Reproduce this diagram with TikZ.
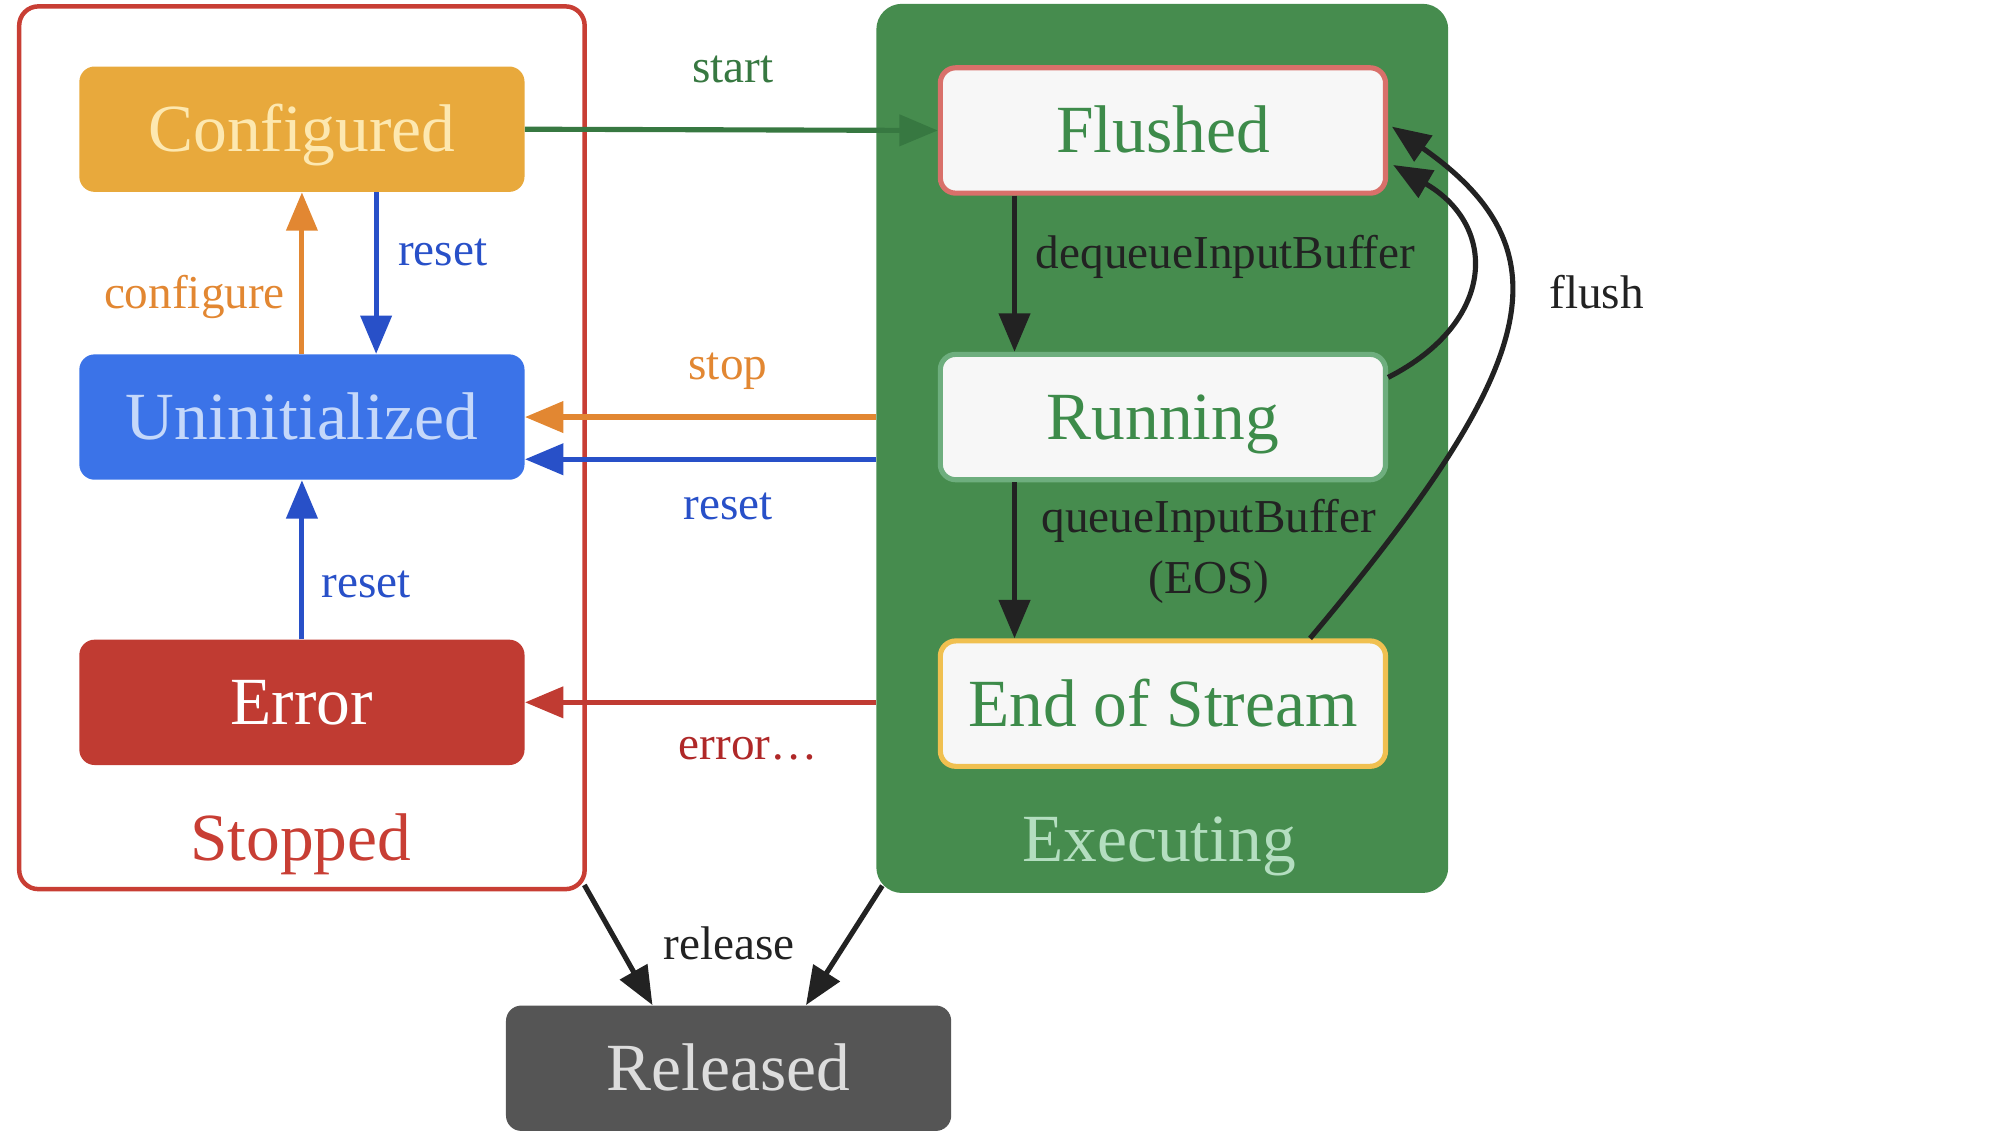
\documentclass[tikz,border=0pt]{standalone}
\usepackage{fontspec}
\setmainfont{Liberation Serif}
\usepackage{xcolor}
\usepackage{tikz}
\usetikzlibrary{shapes,arrows.meta,positioning,calc}

\definecolor{stopRed}{RGB}{200,62,52}
\definecolor{confOrange}{RGB}{232,169,60}
\definecolor{confText}{RGB}{253,232,176}
\definecolor{uninBlue}{RGB}{59,115,232}
\definecolor{uninText}{RGB}{197,216,250}
\definecolor{errRed}{RGB}{192,59,50}
\definecolor{execGreen}{RGB}{70,140,78}
\definecolor{execText}{RGB}{180,222,192}
\definecolor{stateBg}{RGB}{247,247,247}
\definecolor{flushText}{RGB}{61,139,74}
\definecolor{flushBorder}{RGB}{217,112,106}
\definecolor{runBorder}{RGB}{110,174,126}
\definecolor{eosBorder}{RGB}{240,192,80}
\definecolor{relGray}{RGB}{85,85,85}
\definecolor{relText}{RGB}{221,221,221}
\definecolor{startGreen}{RGB}{55,120,65}
\definecolor{stopOrange}{RGB}{226,135,50}
\definecolor{resetBlue}{RGB}{40,80,200}
\definecolor{errLabel}{RGB}{175,40,40}
\definecolor{arrowBlack}{RGB}{34,34,34}

\begin{document}
\begin{tikzpicture}[
    state/.style={rectangle,rounded corners=0.24cm,minimum width=6.96cm,minimum height=1.96cm,font=\fontsize{30}{32}\selectfont,text height=20pt,text depth=0pt},
    inner/.style={state,fill=stateBg,line width=0.08cm,text=flushText},
    group/.style={font=\fontsize{30}{32}\selectfont,text height=20pt,text depth=0pt},
    lbl/.style={font=\fontsize{21}{27}\selectfont,inner sep=0pt},
    arr/.style={-{Triangle[length=0.6cm,width=0.48cm]},line width=0.08cm}
]
    \useasboundingbox (0,0) rectangle (31.36,17.76);

    % 分组
    \node[rectangle,draw=stopRed,line width=0.07cm,rounded corners=0.3cm,minimum width=8.84cm,minimum height=13.8cm] (stopped) at (4.72,10.76) {};
    \node[rectangle,fill=execGreen,rounded corners=0.4cm,minimum width=8.94cm,minimum height=13.9cm] (exec) at (18.17,10.75) {};
    \node[group,text=stopRed] (stoppedlbl) at (4.70,4.66) {Stopped};
    \node[group,text=execText] (execlbl) at (18.12,4.64) {Executing};

    % 状态
    \node[state,fill=confOrange,text=confText] (configured) at (4.72,15.74) {Configured};
    \node[state,fill=uninBlue,text=uninText] (uninit) at (4.72,11.24) {Uninitialized};
    \node[state,fill=errRed,text=white] (error) at (4.72,6.78) {Error};
    \node[inner,draw=flushBorder] (flushed) at (18.18,15.72) {Flushed};
    \node[inner,draw=runBorder] (running) at (18.18,11.24) {Running};
    \node[inner,draw=eosBorder] (eos) at (18.18,6.76) {End of Stream};
    \node[state,fill=relGray,text=relText] (released) at (11.39,1.06) {Released};

    % 连线
    \draw[arr,stopOrange] (uninit.north) -- (configured.south);
    \draw[arr,resetBlue] ([xshift=1.16cm]configured.south) -- ([xshift=1.16cm]uninit.north);
    \draw[arr,resetBlue] (error.north) -- (uninit.south);
    \draw[arr,startGreen] (configured.east) -- (flushed.west);
    \draw[arr,stopOrange] (exec.west |- uninit.east) -- (uninit.east);
    \draw[arr,resetBlue] ($(exec.west |- uninit.east)+(0,-0.66)$) -- ($(uninit.east)+(0,-0.66)$);
    \draw[arr,errRed] (exec.west |- error.east) -- (error.east);
    \draw[arr,arrowBlack] ([xshift=-2.32cm]flushed.south) -- ([xshift=-2.32cm]running.north);
    \draw[arr,arrowBlack] ([xshift=-2.32cm]running.south) -- ([xshift=-2.32cm]eos.north);
    \draw[arr,arrowBlack] ([yshift=0.62cm]running.east) to[out=27,in=-30,out distance=1.9cm,in distance=1.9cm] ([xshift=0.08cm,yshift=-0.54cm]flushed.east);
    \draw[arr,arrowBlack] ([xshift=2.30cm]eos.north) to[out=50,in=-35,out distance=5.5cm,in distance=3.45cm] ([xshift=0.06cm,yshift=0.06cm]flushed.east);
    \draw[arr,arrowBlack] ([shift={(-0.04,0.1)}]stopped.south east) -- ([xshift=-1.19cm]released.north);
    \draw[arr,arrowBlack] ([shift={(0.1,0.12)}]exec.south west) -- ([xshift=1.21cm]released.north);

    % 标签
    \node[lbl,text=startGreen] (startlbl) at (11.46,16.68) {start};
    \node[lbl,text=stopOrange] (stoplbl) at (11.38,11.96) {stop};
    \node[lbl,text=resetBlue] (resetlbl) at (11.38,9.84) {reset};
    \node[lbl,text=errLabel] (errorlbl) at (11.70,6.06) {error…};
    \node[lbl,text=stopOrange] (conflbl) at (3.04,13.12) {configure};
    \node[lbl,text=resetBlue] (resetdownlbl) at (6.92,13.82) {reset};
    \node[lbl,text=resetBlue] (resetuplbl) at (5.72,8.62) {reset};
    \node[lbl,text=arrowBlack] (deqlbl) at (19.16,13.74) {dequeueInputBuffer};
    \node[lbl,text=arrowBlack,align=center] (queuelbl) at (18.90,9.14) {queueInputBuffer\\(EOS)};
    \node[lbl,text=arrowBlack] (flushlbl) at (24.96,13.20) {flush};
    \node[lbl,text=arrowBlack] (releaselbl) at (11.40,3.02) {release};
\end{tikzpicture}
\end{document}
